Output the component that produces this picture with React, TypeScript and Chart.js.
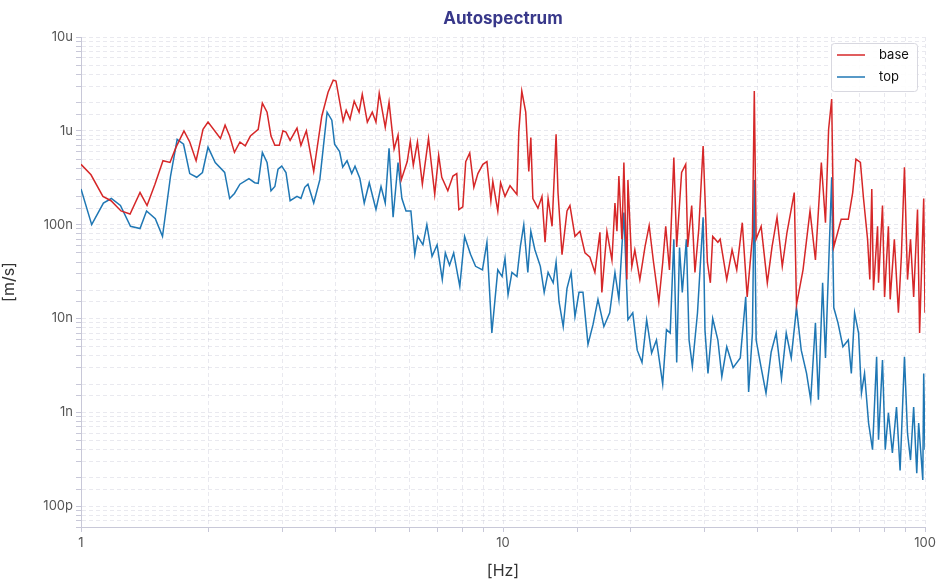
import React, { useEffect, useRef } from "react";
import { Chart, registerables } from "chart.js";
Chart.register(...registerables);

const baseFreq = [1.0,1.056,1.127,1.178,1.244,1.307,1.38,1.434,1.497,1.564,1.625,1.68,1.754,1.81,1.874,1.946,2.0,2.14,2.195,2.25,2.31,2.38,2.45,2.52,2.63,2.69,2.76,2.82,2.88,2.95,3.01,3.06,3.13,3.25,3.32,3.42,3.56,3.72,3.85,3.96,4.02,4.18,4.25,4.34,4.44,4.56,4.64,4.77,4.9,5.0,5.09,5.26,5.37,5.52,5.64,5.74,5.93,6.03,6.13,6.27,6.44,6.66,6.89,7.04,7.16,7.4,7.61,7.77,7.86,8.03,8.16,8.34,8.53,8.72,8.96,9.16,9.36,9.46,9.72,9.87,10.11,10.39,10.79,10.9,11.08,11.32,11.51,11.64,11.77,12.1,12.37,12.58,12.79,13.07,13.36,13.5,13.8,14.18,14.41,14.81,15.22,15.64,16.07,16.51,16.97,17.15,17.63,18.12,18.42,18.62,18.82,19.13,19.34,19.66,19.77,20.2,20.53,21.1,21.7,22.2,22.7,23.4,23.9,24.3,24.8,25.4,25.8,26.5,27.1,27.4,28.0,28.5,29.1,29.8,30.5,31.0,31.4,32.3,32.7,33.9,34.9,35.8,36.9,37.9,39.0,39.4,39.8,40.9,42.3,43.4,44.6,45.9,47.1,49.0,49.6,51.4,53.4,55.0,56.8,58.1,59.1,60.1,60.8,63.3,65.8,67.4,68.6,70.3,71.5,73.1,74.0,74.8,75.5,77.2,77.6,79.3,80.2,81.9,82.7,84.6,86.5,87.9,89.4,90.9,92.4,94.0,96.0,97.1,99.3,100];
const baseVal = [4.4e-7,3.4e-7,2.0e-7,1.8e-7,1.4e-7,1.3e-7,2.2e-7,1.6e-7,2.7e-7,4.8e-7,4.6e-7,6.7e-7,1.0e-6,7.6e-7,4.8e-7,1.04e-6,1.24e-6,8.3e-7,1.15e-6,8.8e-7,5.9e-7,7.6e-7,6.9e-7,8.8e-7,1.04e-6,1.97e-6,1.58e-6,8.8e-7,7.0e-7,7.0e-7,1.0e-6,9.7e-7,7.9e-7,1.07e-6,7.0e-7,1.0e-6,3.7e-7,1.43e-6,2.58e-6,3.47e-6,3.4e-6,1.27e-6,1.66e-6,1.33e-6,2.07e-6,1.58e-6,2.46e-6,1.24e-6,1.58e-6,1.24e-6,2.52e-6,1.09e-6,2.02e-6,6.4e-7,9.0e-7,3.0e-7,4.7e-7,7.7e-7,4.3e-7,7.6e-7,2.7e-7,8.3e-7,2.1e-7,5.5e-7,3.2e-7,2.3e-7,3.3e-7,3.5e-7,1.45e-7,1.55e-7,4.7e-7,5.8e-7,2.5e-7,3.5e-7,4.4e-7,4.7e-7,1.8e-7,2.9e-7,1.4e-7,2.8e-7,2.0e-7,2.6e-7,2.1e-7,9.7e-7,2.65e-6,1.58e-6,3.7e-7,8.5e-7,1.9e-7,1.5e-7,2.0e-7,6.5e-8,1.9e-7,9.6e-8,9.2e-7,2.2e-7,4.8e-8,1.4e-7,1.6e-7,7.5e-8,8.5e-8,5.0e-8,4.5e-8,3.1e-8,8.3e-8,1.9e-8,8.5e-8,4.2e-8,1.7e-7,8.5e-8,3.3e-7,7.0e-8,4.6e-7,2.6e-8,3.0e-7,3.6e-8,5.4e-8,2.6e-8,5.8e-8,9.8e-8,4.2e-8,1.5e-8,3.9e-8,9.6e-8,3.3e-8,5.2e-7,5.8e-8,3.6e-7,4.4e-7,5.8e-8,1.6e-7,3.1e-8,8.9e-8,6.9e-7,4.0e-8,2.4e-8,7.5e-8,6.5e-8,7.0e-8,2.6e-8,5.4e-8,3.3e-8,1.05e-7,1.7e-8,7.5e-8,2.65e-6,7.0e-8,9.6e-8,2.4e-8,5.8e-8,1.2e-7,3.6e-8,8.3e-8,2.2e-7,1.4e-8,3.3e-8,1.4e-7,4.2e-8,4.6e-7,1.05e-7,1.04e-6,2.18e-6,5.8e-8,1.14e-7,1.14e-7,2.2e-7,5.0e-7,4.6e-7,1.9e-7,7.0e-8,2.6e-8,2.4e-7,2.0e-8,9.6e-8,2.4e-8,1.6e-7,1.7e-8,9.6e-8,1.6e-8,7.0e-8,1.15e-8,4.6e-8,4.1e-7,2.6e-8,7.0e-8,1.7e-8,1.45e-7,7.0e-9,1.9e-7,1.15e-8];

const topFreq = [1.0,1.06,1.13,1.18,1.24,1.31,1.38,1.43,1.5,1.56,1.63,1.69,1.75,1.81,1.88,1.94,2.0,2.08,2.19,2.25,2.31,2.38,2.5,2.58,2.63,2.69,2.76,2.82,2.88,2.93,2.99,3.06,3.13,3.25,3.32,3.39,3.45,3.56,3.68,3.83,3.93,3.99,4.1,4.17,4.27,4.38,4.46,4.58,4.69,4.82,5.0,5.14,5.26,5.37,5.49,5.64,5.76,5.89,6.05,6.18,6.28,6.46,6.6,6.79,6.98,7.18,7.3,7.47,7.64,7.9,8.11,8.38,8.61,8.94,9.16,9.41,9.72,9.95,10.11,10.28,10.5,10.79,10.99,11.2,11.45,11.64,11.9,12.26,12.52,12.79,13.15,13.36,13.58,13.89,14.18,14.5,14.81,15.14,15.47,15.9,16.34,16.79,17.34,17.9,18.42,18.82,19.34,19.77,20.3,20.8,21.35,21.9,22.5,23.1,23.9,24.4,24.9,25.4,25.8,26.2,26.6,27.2,27.6,28.1,28.9,29.8,30.1,30.6,31.4,32.3,33.0,33.9,35.1,36.5,37.6,38.2,39.0,39.4,39.8,40.9,42.0,43.2,44.4,45.7,46.9,48.2,49.6,50.9,52.4,53.6,55.0,55.9,57.2,58.1,59.1,60.1,60.8,62.2,63.9,65.8,66.9,68.1,69.6,70.7,71.9,73.5,75.1,76.8,77.6,79.3,80.5,81.9,83.7,85.6,87.3,89.4,90.9,92.4,94.0,95.6,96.6,98.8,99.3,100];
const topVal = [2.4e-7,1.0e-7,1.7e-7,1.9e-7,1.6e-7,9.6e-8,9.1e-8,1.4e-7,1.16e-7,7.5e-8,3.3e-7,8.1e-7,7.2e-7,3.5e-7,3.2e-7,3.6e-7,6.7e-7,4.6e-7,3.6e-7,1.9e-7,2.15e-7,2.7e-7,3.1e-7,2.8e-7,2.75e-7,5.9e-7,4.6e-7,2.3e-7,2.55e-7,3.9e-7,4.2e-7,3.6e-7,1.8e-7,2.0e-7,1.9e-7,2.5e-7,2.7e-7,1.7e-7,3.0e-7,1.58e-6,1.3e-6,7.2e-7,6.0e-7,4.1e-7,4.8e-7,3.5e-7,4.2e-7,3.1e-7,1.7e-7,2.8e-7,1.45e-7,2.55e-7,1.7e-7,6.5e-7,1.2e-7,4.6e-7,1.9e-7,1.4e-7,1.4e-7,4.8e-8,7.5e-8,6.1e-8,1.0e-7,4.6e-8,6.1e-8,2.6e-8,5.0e-8,3.7e-8,5.0e-8,2.2e-8,7.5e-8,4.8e-8,3.6e-8,3.3e-8,6.5e-8,7.0e-9,3.3e-8,2.8e-8,4.4e-8,1.8e-8,3.1e-8,2.8e-8,5.8e-8,1.0e-7,3.1e-8,8.5e-8,5.4e-8,3.6e-8,1.9e-8,3.1e-8,2.4e-8,4.0e-8,1.5e-8,8.2e-9,2.1e-8,3.1e-8,1.05e-8,1.9e-8,1.9e-8,5.3e-9,8.6e-9,1.6e-8,8.2e-9,1.15e-8,3.1e-8,1.6e-8,1.35e-7,9.7e-9,1.15e-8,4.6e-9,3.4e-9,9.7e-9,4.3e-9,5.9e-9,2.0e-9,7.6e-9,7.0e-9,7.0e-8,3.4e-9,5.7e-8,1.9e-8,7.0e-8,5.9e-9,3.1e-9,1.15e-8,1.2e-7,7.6e-9,2.6e-9,1.0e-8,5.9e-9,2.4e-9,5.0e-9,3.0e-9,3.8e-9,1.7e-8,1.65e-9,7.0e-9,3.0e-7,5.9e-9,3.0e-9,1.6e-9,4.4e-9,7.0e-9,2.3e-9,7.0e-9,3.8e-9,1.3e-8,4.6e-9,2.6e-9,1.36e-9,9.0e-9,1.36e-9,2.4e-8,3.8e-9,3.6e-8,3.2e-7,1.3e-8,9.0e-9,5.0e-9,5.9e-9,2.6e-9,1.15e-8,7.0e-9,1.6e-9,2.6e-9,7.7e-10,4.0e-10,3.9e-9,5.1e-10,3.6e-9,4.0e-10,9.9e-10,3.7e-10,1.14e-9,2.4e-10,3.9e-9,6.0e-10,3.1e-10,1.14e-9,2.25e-10,7.7e-10,1.9e-10,2.6e-9,4.0e-10];

const seriesNames = ["base", "top"];
const seriesColors = ["#d62728", "#1f77b4"];
const xTickLabels: Record<string, string> = { "0": "1", "1": "10", "2": "100" };
const yTickLabels: Record<string, string> = { "-5": "10u", "-6": "1u", "-7": "100n", "-8": "10n", "-9": "1n", "-10": "100p" };

const FONT = "Inter, 'DejaVu Sans', sans-serif";

export default function App() {
  const ref = useRef<HTMLCanvasElement>(null);
  useEffect(() => {
    const overlay = {
      id: "overlay",
      afterDraw(chart: any) {
        const ctx = chart.ctx;
        const a = chart.chartArea;
        ctx.save();
        ctx.fillStyle = "#38388a";
        ctx.font = "bold 17px " + FONT;
        ctx.textAlign = "center";
        ctx.textBaseline = "middle";
        ctx.fillText("Autospectrum", (a.left + a.right) / 2, 19);
        const bx = a.right - 94, by = a.top + 6, bw = 86, bh = 48;
        ctx.fillStyle = "rgba(255,255,255,0.9)";
        ctx.strokeStyle = "#d8d8e0";
        ctx.lineWidth = 1;
        ctx.beginPath();
        (ctx as any).roundRect(bx + 0.5, by + 0.5, bw, bh, 3);
        ctx.fill();
        ctx.stroke();
        ctx.font = "13px " + FONT;
        ctx.textAlign = "left";
        seriesNames.forEach((n, i) => {
          const yy = by + 12 + i * 22;
          ctx.strokeStyle = seriesColors[i];
          ctx.lineWidth = 1.5;
          ctx.beginPath();
          ctx.moveTo(bx + 6, yy);
          ctx.lineTo(bx + 34, yy);
          ctx.stroke();
          ctx.fillStyle = "#111";
          ctx.fillText(n, bx + 48, yy);
        });
        ctx.restore();
      },
    };
    const grid = {
      color: "rgba(200,200,215,0.4)",
      lineWidth: 1,
      tickLength: 5,
      tickColor: "#c8c8d8",
    };
    const label = (map: Record<string, string>) => (v: any) => {
      const l = Math.log10(v);
      const r = Math.round(l);
      return Math.abs(l - r) < 1e-6 ? (map[String(r)] ?? "") : "";
    };
    const chart = new Chart(ref.current!, {
      type: "line",
      data: {
        datasets: [
          { label: seriesNames[0], data: baseFreq.map((f, i) => ({ x: f, y: baseVal[i] })), borderColor: seriesColors[0], borderWidth: 1.5, pointRadius: 0, tension: 0 },
          { label: seriesNames[1], data: topFreq.map((f, i) => ({ x: f, y: topVal[i] })), borderColor: seriesColors[1], borderWidth: 1.5, pointRadius: 0, tension: 0 },
        ],
      },
      options: {
        responsive: false,
        animation: false,
        layout: { padding: { top: 37, right: 24, left: 0, bottom: 0 } },
        plugins: { legend: { display: false }, title: { display: false }, tooltip: { enabled: false } },
        scales: {
          x: {
            type: "logarithmic",
            min: 1,
            max: 100,
            border: { color: "#c8c8d8", dash: [4, 3] },
            grid,
            ticks: { color: "#555", font: { size: 13, family: FONT }, autoSkip: false, maxRotation: 0, callback: label(xTickLabels) },
            title: { display: true, text: "[Hz]", color: "#333", font: { size: 16, family: FONT }, padding: { top: 4, bottom: 6 } },
            afterFit: (s: any) => { s.height = 60; },
          } as any,
          y: {
            type: "logarithmic",
            min: 6e-11,
            max: 1e-5,
            border: { color: "#c8c8d8", dash: [4, 3] },
            grid,
            ticks: { color: "#555", font: { size: 13, family: FONT }, autoSkip: false, callback: label(yTickLabels) },
            title: { display: true, text: "[m/s]", color: "#333", font: { size: 16, family: FONT }, padding: { top: 0, bottom: 6 } },
            afterFit: (s: any) => { s.width = 81; },
          } as any,
        },
      },
      plugins: [overlay],
    });
    return () => chart.destroy();
  }, []);
  return (
    <div style={{ position: "fixed", left: 0, top: 0, width: 949, height: 587, background: "#fff" }}>
      <canvas ref={ref} width={949} height={587} />
    </div>
  );
}
